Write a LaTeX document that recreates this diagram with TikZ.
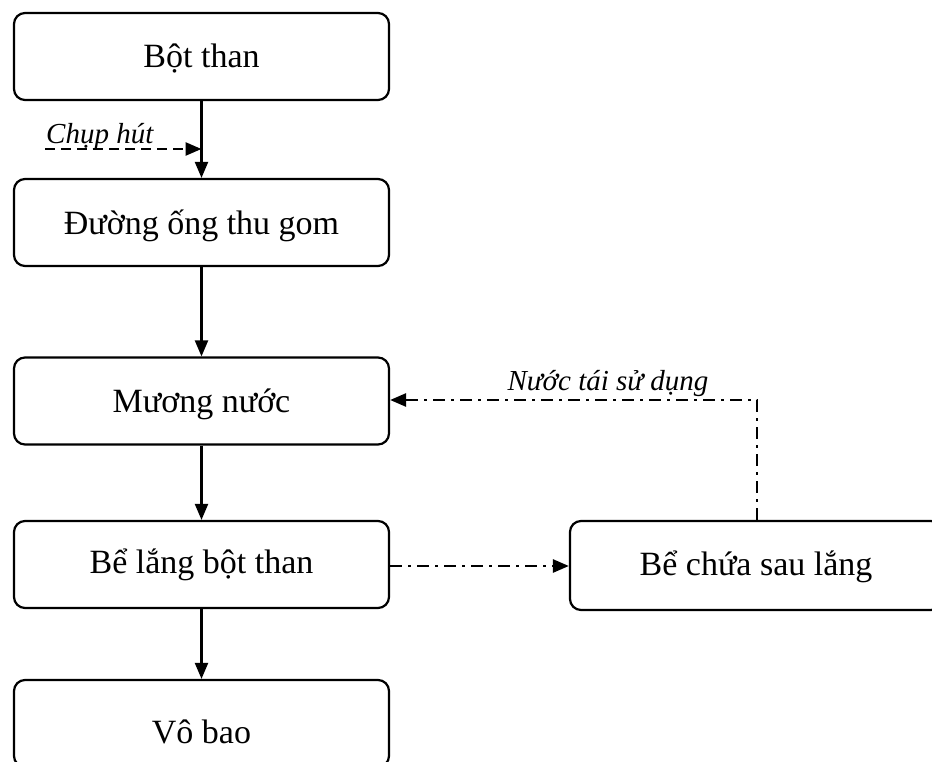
\documentclass[tikz,border=0pt]{standalone}
\usepackage{fontspec}
\setmainfont{Liberation Serif}
\usetikzlibrary{arrows.meta,calc}
\begin{document}
\begin{tikzpicture}[x=1pt,y=-1pt,
  box/.style={draw, line width=2.2pt, rounded corners=11pt, minimum width=375pt, minimum height=87pt, inner sep=0pt, text depth=8pt, font=\fontsize{34}{34}\selectfont},
  flow/.style={line width=2.2pt, -{Triangle[length=16pt,width=13pt]}},
  dashflow/.style={flow, line width=2.6pt, dash pattern=on 10pt off 6pt},
  ddflow/.style={flow, line width=2.6pt, dash pattern=on 12pt off 6pt on 3pt off 6pt},
  lbl/.style={font=\fontsize{29}{29}\selectfont\itshape, inner sep=0pt}]
\useasboundingbox (0,0) rectangle (932,762);
\node[box, text height=31pt] (b1) at (201.5,56.5) {Bột than};
\node[box, text height=33pt] (b2) at (201.5,222.5) {Đường ống thu gom};
\node[box, text height=30pt] (b3) at (201.5,401) {Mương nước};
\node[box, text height=26pt] (b4) at (201.5,564.5) {Bể lắng bột than};
\node[box, text height=47pt] (b5) at (201.5,723.5) {Vô bao};
\node[box, text height=28pt, minimum width=372pt, minimum height=89pt] (b6) at (756,565.5) {Bể chứa sau lắng};
\draw[flow] (b1) -- (b2);
\draw[flow] (b2) -- (b3);
\draw[flow] (b3) -- (b4);
\draw[flow] (b4) -- (b5);
\coordinate (cs) at (45,149);
\coordinate (ce) at (b1.south |- cs);
\draw[dashflow] (cs) -- (ce);
\node[lbl, anchor=base west] (lc) at (46,144) {Chụp hút};
\coordinate (c4) at (389,566);
\draw[ddflow] (b4.east |- c4) -- (b6.west |- c4);
\coordinate (tc) at (757,400);
\draw[ddflow] (b6.north -| tc) -- (tc) -- (b3.east |- tc);
\node[lbl, anchor=base] (ln) at (608,390) {Nước tái sử dụng};
\end{tikzpicture}
\end{document}
